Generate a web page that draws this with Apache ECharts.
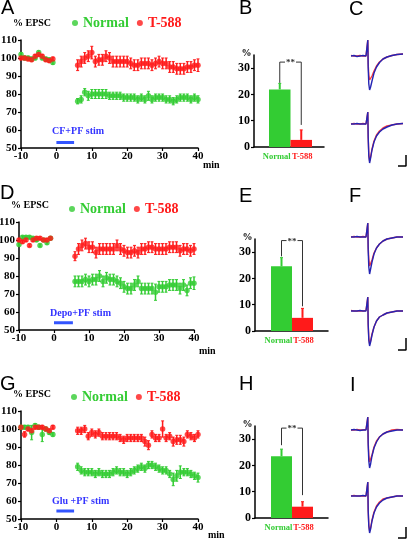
<!DOCTYPE html>
<html><head><meta charset="utf-8">
<script src="https://cdn.jsdelivr.net/npm/echarts@6/dist/echarts.min.js"></script>
<style>html,body{margin:0;padding:0;background:#fff}#c{width:409px;height:540px}</style>
</head><body><div id="c"></div>
<script>
// ---------------- data ----------------
const minutes = [-10,-9,-8,-7,-6,-5,-4,-3,-2,-1,6,7,8,9,10,11,12,13,14,15,16,17,18,19,20,21,22,23,24,25,26,27,28,29,30,31,32,33,34,35,36,37,38,39,40];
const timeTicks = [-10,0,10,20,30,40];
const epscTicks = [50,60,70,80,90,100,110];

const aNormal    = [102,100,100,99.5,100,103,100,99.5,99,97.5, 76,77,81,79,80,80,80,80,80,79, 79,79,79,78,78,78,78,77,78,77, 79,77,78,78,78,77,77,76,77,78, 78,78,77,78,77];
const aNormalErr = [1,1,1,1,1,1,1,1,1,1, 1.5,2,2,2.5,2.5,2.5,2.5,2.5,2.5,2, 2,2,2,2,2,2,2,2,2,2, 2.5,2,2,2,2,2,2,2,2,2, 2,2,2,2,2];
const aT588      = [100,100,99.5,99,101,102,101,99,98.5,99.5, 96,98,100,101,103,98,99,99,101,100, 98,98,98,98,98,97,96,96,97,97, 97,96,97,98,97,97,95,95,94,94, 94,95,95,96,96];
const aT588Err   = [1,1,1,1,1,1,1,1,1,1, 3,3,3,3,3.5,3,3,3,3,3, 3,3,3,3,3,3,3,3,3,3, 3,3,3,3,3,3,3,3,3,3, 3,3,3,3,3.5];

const dNormal    = [97.5,101.5,101.5,101.5,101,100,97,100,98.5,101, 77,77,77,78,77,78,78,80,77,79, 78,78,77,76,74,73,73,75,77,73, 73,73,73,71,74,74,74,75,75,75, 73,75,72,76,76];
const dNormalErr = [0.8,0.8,0.8,0.8,0.8,0.8,0.8,0.8,0.8,0.8, 3,3,3,3,3,3,3,3,3,3, 3,3,3,3,3,3,3,3,3,3, 3,3,3,4.5,3,3,3,3,3,3, 3,3,3,3,3.5];
const dT588      = [100,99,100,97,100,101,101,100,100,101, 91,95,97,98,96,96,93,95,95,95, 95,95,97,95,94,93,93,94,93,95, 95,96,96,95,95,95,95,96,96,96, 94,95,95,94,95];
const dT588Err   = [0.8,0.8,0.8,0.8,0.8,0.8,0.8,0.8,0.8,0.8, 2.5,3,3,3,3,3,3,3,3,3, 3,3,3,3,3,3,3,3,3,3, 3,3,3,3,3,3,3,3,3,3, 3,3,3,3,3];

const gNormal    = [101,101,101,98,102,101,97,100,98,97, 79,77,76,76,76,75,76,75,75,75, 76,77,76,76,75,76,77,78,79,78, 80,80,79,78,77,77,75,72,74,76, 76,76,75,74,73];
const gNormalErr = [1,1,1,4,1,1,4,1,1,1, 2,2,2,2,2,2,2,2,2,2, 2,2,2,2,2,2,2,2,2,2, 2,2,2,2,2,2,2,3.5,3,3.5, 2,2,2,2,2.5];
const gT588      = [101,97,100,99,101,101,101,100,99,101, 99,99,100,96,98,97,98,96,96,96, 96,96,95,94,95,95,95,95,95,93, 91,97,95,95,100,95,96,93,94,94, 93,97,96,95,97];
const gT588Err   = [1,1.5,1,1,1,1,1,1,1,1, 2,2,2,2,2,2,2,2,2,2, 2,2,2,2,2,2,2,2,2,2.5, 2.5,2,2,2,4.5,2,2,2.5,2.5,2.5, 2.5,2,2,2,2];

const stimA = [0, 5],   stimALevel = 53;
const stimD = [0, 5.4], stimDLevel = 54;
const stimG = [0, 5],   stimGLevel = 54.5;

const barCategories = ['Normal', 'T-588'];
const barTicks = [0, 10, 20, 30];
const bValues = [21.9, 2.7], bErr = [2.3, 3.8], bBracket = [24.4, 32.3, 8.4];
const eValues = [24.6, 5.0], eErr = [3.3, 3.6], eBracket = [28.4, 34.4, 9.4];
const hValues = [23.5, 4.3], hErr = [2.7, 1.9], hBracket = [27.7, 34.2, 8.7];

const traceTime  = [0,3,6,9,12,15,16.5,16.8,17.2,17.8,18.6,19.6,21,23,25.5,28.5,32,36,41,46,52];
const cUpperBlue = [0,0.5,-0.5,0,0.5,0,0,16,-12,-28,-34,-31,-25,-17,-11,-6.5,-3,-1,0.5,1.5,2];
const cUpperRed  = [0.5,0,0,0.5,0,0,0,16,-8,-19,-24,-23,-20,-15,-10,-6,-3,-1,0.5,1.5,2];
const cLowerBlue = [0,0,0.5,0,0,0,0,12,-14,-32,-39,-34,-26,-18,-12,-8,-5,-3,-1,0,0.5];
const cLowerRed  = [0,0.5,0,0,0.5,0,0,12,-13,-30,-37,-33,-25,-17,-11,-7,-4,-2,-1,0,0.5];
const fUpperBlue = [0,0,0.5,0,0,0,0,14,-14,-30,-37,-32,-25,-17,-11,-7,-4,-2,-1,0,0];
const fUpperRed  = [0,0.5,0,0,0.5,0,0,14,-10,-22,-29,-28,-23,-16,-11,-7,-4,-2,-1,0,0];
const fLowerBlue = [0,0,0,0.5,0,0,0,14,-14,-29,-35,-31,-24,-16,-10,-6,-4,-2,-1,0,0];
const fLowerRed  = [0.5,0,0,0,0,0.5,0,14,-13,-27,-33,-30,-23,-16,-10,-6,-4,-2,-1,0,0];
const iUpperBlue = [0,0.5,0,-0.5,0,0,0,13,-15,-31,-38,-34,-26,-18,-12,-7,-4,-2,-1,0,0];
const iUpperRed  = [0,0,0.5,0,0,0.5,0,13,-12,-25,-32,-31,-25,-17,-11,-7,-4,-2,0,0.5,0];
const iLowerBlue = [0,0,0,0,0.5,0,0,14,-15,-30,-37,-33,-25,-17,-11,-7,-4,-2,-1,0,0];
const iLowerRed  = [0,0.5,0,0,0,0,0,14,-14,-29,-35,-32,-24,-16,-10,-6,-3,-2,-1,0,0];
const scaleBarC = [[47,-42],[55,-42],[55,-31]];
const scaleBarF = [[47,-39],[55,-39],[55,-27]];
const scaleBarI = [[47,-42],[55,-42],[55,-31]];

// ---------------- styles ----------------
const GREEN = '#33cc33', RED = '#ff1a1a', STIM_BLUE = '#3355ff', STIM_TXT = '#3333ff';
const TR_BLUE = '#2424b4', TR_RED = '#ff3a3a';
const SERIF = 'Liberation Serif', SANS = 'Liberation Sans';
const barColors = [GREEN, RED];

const grids = [], xAxes = [], yAxes = [], series = [];
function addGrid(g, xa, ya) {
  const i = grids.length;
  grids.push(Object.assign({containLabel:false, outerBoundsMode:'none'}, g));
  xAxes.push(Object.assign({gridIndex:i}, xa));
  yAxes.push(Object.assign({gridIndex:i}, ya));
  return i;
}
const axLine = {show:true, onZero:false, lineStyle:{color:'#000', width:1.5}};
const axTick = {show:true, length:3, lineStyle:{color:'#000', width:1.2}};
const boldSerif = (size) => ({color:'#000', fontFamily:SERIF, fontWeight:'bold', fontSize:size});

function errRender(params, api) {
  const x = api.value(0);
  const a = api.coord([x, api.value(1)]);
  const b = api.coord([x, api.value(2)]);
  const c = api.visual('color');
  const w = 1.5;
  return {type:'group', children:[
    {type:'line', shape:{x1:a[0],y1:a[1],x2:b[0],y2:b[1]}, style:{stroke:c, lineWidth:1.5}},
    {type:'line', shape:{x1:a[0]-w,y1:a[1],x2:a[0]+w,y2:a[1]}, style:{stroke:c, lineWidth:1}},
    {type:'line', shape:{x1:b[0]-w,y1:b[1],x2:b[0]+w,y2:b[1]}, style:{stroke:c, lineWidth:1}}
  ]};
}
function barErrRender(params, api) {
  const x = api.value(0);
  const a = api.coord([x, api.value(1)]);
  const b = api.coord([x, api.value(2)]);
  const c = barColors[params.dataIndex];
  return {type:'group', children:[
    {type:'line', shape:{x1:a[0],y1:a[1],x2:b[0],y2:b[1]}, style:{stroke:c, lineWidth:2}},
    {type:'line', shape:{x1:b[0]-1.5,y1:b[1],x2:b[0]+1.5,y2:b[1]}, style:{stroke:c, lineWidth:1}}
  ]};
}
function bracketRender(params, api) {
  const l = api.coord([0, api.value(1)]);
  const t0 = api.coord([0, api.value(2)]);
  const t1 = api.coord([1, api.value(2)]);
  const r = api.coord([1, api.value(3)]);
  return {type:'group', children:[
    {type:'polyline', shape:{points:[l, t0, t1, r]}, style:{stroke:'#333', lineWidth:1, fill:null}},
    {type:'text', x:(t0[0]+t1[0])/2, y:t0[1]+1, style:{text:'**', fill:'#333', font:'bold 9px "Liberation Serif"', align:'center', verticalAlign:'middle', backgroundColor:'#fff', padding:[0,1]}}
  ]};
}

// ---------------- time course panels ----------------
const timePanels = [
  {grid:{left:21, top:40, width:177, height:108}, n:aNormal, ne:aNormalErr, t:aT588, te:aT588Err, stim:stimA, lvl:stimALevel},
  {grid:{left:19, top:222, width:175, height:108}, n:dNormal, ne:dNormalErr, t:dT588, te:dT588Err, stim:stimD, lvl:stimDLevel},
  {grid:{left:21, top:411, width:177, height:108}, n:gNormal, ne:gNormalErr, t:gT588, te:gT588Err, stim:stimG, lvl:stimGLevel}
];
timePanels.forEach(p => {
  const i = addGrid(p.grid,
    {type:'value', min:timeTicks[0], max:timeTicks[timeTicks.length-1], interval:10,
     axisLine:axLine, axisTick:axTick, splitLine:{show:false},
     axisLabel:Object.assign(boldSerif(11), {margin:3})},
    {type:'value', min:epscTicks[0], max:epscTicks[epscTicks.length-1], interval:10,
     axisLine:axLine, axisTick:axTick, splitLine:{show:false},
     axisLabel:Object.assign(boldSerif(11), {margin:4}),
     name:'% EPSC', nameLocation:'end', nameGap:17, nameMoveOverlap:false,
     nameTextStyle:Object.assign(boldSerif(10), {align:'center', verticalAlign:'middle', padding:[0,0,0,22]})});
  [['Normal', p.n, p.ne, GREEN], ['T-588', p.t, p.te, RED]].forEach(([name, v, e, col]) => {
    series.push({type:'custom', name:name+' SEM', xAxisIndex:i, yAxisIndex:i, renderItem:errRender,
      itemStyle:{color:col}, data:minutes.map((m,k)=>[m, v[k]-e[k], v[k]+e[k]]), z:2, silent:true});
    series.push({type:'scatter', name:name, xAxisIndex:i, yAxisIndex:i, symbolSize:5.5,
      itemStyle:{color:col}, data:minutes.map((m,k)=>[m, v[k]]), z:3});
  });
  series.push({type:'line', name:'stim', xAxisIndex:i, yAxisIndex:i, showSymbol:false, symbol:'none',
    lineStyle:{color:STIM_BLUE, width:3}, data:p.stim.map(x=>[x, p.lvl]), z:2});
});

// ---------------- bar panels ----------------
const barPanels = [
  {frame:{left:254, top:55, width:70, height:92}, bars:{left:269, top:55, width:43, height:92}, v:bValues, e:bErr, br:bBracket},
  {frame:{left:255, top:239, width:73, height:92}, bars:{left:271, top:239, width:42, height:92}, v:eValues, e:eErr, br:eBracket},
  {frame:{left:255, top:426, width:73, height:92}, bars:{left:271, top:426, width:42, height:92}, v:hValues, e:hErr, br:hBracket}
];
barPanels.forEach(p => {
  addGrid(p.frame,
    {type:'category', data:[''], axisLine:axLine, axisTick:{show:false}, axisLabel:{show:false}},
    {type:'value', min:0, max:35, interval:10, axisLine:axLine,
     axisTick:Object.assign({customValues:barTicks}, axTick), splitLine:{show:false},
     axisLabel:Object.assign(boldSerif(12), {margin:4, customValues:barTicks}),
     name:'%', nameLocation:'end', nameGap:2, nameMoveOverlap:false,
     nameTextStyle:Object.assign(boldSerif(10), {align:'center', verticalAlign:'middle', padding:[0,15,0,0]})});
  const i = addGrid(p.bars,
    {type:'category', data:[
        {value:barCategories[0], textStyle:{color:GREEN, padding:[0,6,0,0]}},
        {value:barCategories[1], textStyle:{color:RED, padding:[0,0,0,2]}}],
     axisLine:{show:false}, axisTick:{show:false},
     axisLabel:Object.assign(boldSerif(8.5), {interval:0, margin:5, color:(v)=> v===barCategories[0]?GREEN:RED})},
    {type:'value', min:0, max:35, show:false});
  series.push({type:'bar', name:'bars', xAxisIndex:i, yAxisIndex:i, barWidth:'100%', barGap:'0%',
    data:p.v.map((v,k)=>({value:v, itemStyle:{color:barColors[k]}})), z:2});
  series.push({type:'custom', name:'bar SEM', xAxisIndex:i, yAxisIndex:i, renderItem:barErrRender,
    data:p.v.map((v,k)=>[k, v, v+p.e[k]]), z:3, silent:true});
  series.push({type:'custom', name:'sig', xAxisIndex:i, yAxisIndex:i, renderItem:bracketRender,
    data:[[0, p.br[0], p.br[1], p.br[2]]], z:4, silent:true});
});

// ---------------- trace panels ----------------
const tracePanels = [
  {top:36, red:cUpperRed, blue:cUpperBlue},
  {top:104, red:cLowerRed, blue:cLowerBlue, scale:scaleBarC},
  {top:217, red:fUpperRed, blue:fUpperBlue},
  {top:291, red:fLowerRed, blue:fLowerBlue, scale:scaleBarF},
  {top:410, red:iUpperRed, blue:iUpperBlue},
  {top:476, red:iLowerRed, blue:iLowerBlue, scale:scaleBarI}
];
tracePanels.forEach(p => {
  const i = addGrid({left:351, top:p.top, width:56, height:64},
    {type:'value', min:0, max:56, show:false},
    {type:'value', min:-44, max:20, show:false});
  series.push({type:'line', name:'T-588 trace', xAxisIndex:i, yAxisIndex:i, symbol:'none',
    lineStyle:{color:TR_RED, width:1.4}, data:traceTime.map((t,k)=>[t, p.red[k]]), z:2, silent:true});
  series.push({type:'line', name:'control trace', xAxisIndex:i, yAxisIndex:i, symbol:'none',
    lineStyle:{color:TR_BLUE, width:1.4}, data:traceTime.map((t,k)=>[t, p.blue[k]]), z:3, silent:true});
  if (p.scale) series.push({type:'line', name:'scale', xAxisIndex:i, yAxisIndex:i, symbol:'none',
    lineStyle:{color:'#000', width:1.5}, data:p.scale, z:3, silent:true});
});

// ---------------- legends ----------------
const legendItems = [
  {name:'Normal', icon:'circle', textStyle:{color:GREEN}},
  {name:'T-588', icon:'circle', textStyle:{color:RED}}
];
const legends = [{left:72, top:16}, {left:69, top:202}, {left:71, top:390}].map(pos => Object.assign({
  data:legendItems, itemWidth:6, itemHeight:6, itemGap:8, padding:0, selectedMode:false,
  textStyle:{fontFamily:SERIF, fontWeight:'bold', fontSize:14}
}, pos));

// ---------------- panel letters, axis unit labels & stim labels ----------------
const letters = [['A',1,9.5],['B',239,9.5],['C',349,10],['D',0,194],['E',239,197],['F',349,197],['G',0,385],['H',239,385],['I',350,386]];
const minLabels = [['min',203,166],['min',199,352],['min',208,536]];
const stimLabels = [['CF+PF stim',52,132],['Depo+PF stim',50,314],['Glu +PF stim',52,502]];
const graphic = letters.map(([t,x,y]) => ({type:'text', left:x, top:y-11, style:{text:t, fill:'#000', font:'20px "Liberation Sans"'}}))
  .concat(minLabels.map(([t,x,y]) => ({type:'text', left:x, top:y-6, style:{text:t, fill:'#000', font:'bold 10px "Liberation Serif"'}})))
  .concat(stimLabels.map(([t,x,y]) => ({type:'text', left:x, top:y-6, style:{text:t, fill:STIM_TXT, font:'bold 10px "Liberation Serif"'}})));

const chart = echarts.init(document.getElementById('c'), null, {renderer:'canvas'});
chart.setOption({
  animation:false,
  backgroundColor:'#fff',
  grid:grids, xAxis:xAxes, yAxis:yAxes, series:series,
  legend:legends, graphic:graphic
});
</script></body></html>
